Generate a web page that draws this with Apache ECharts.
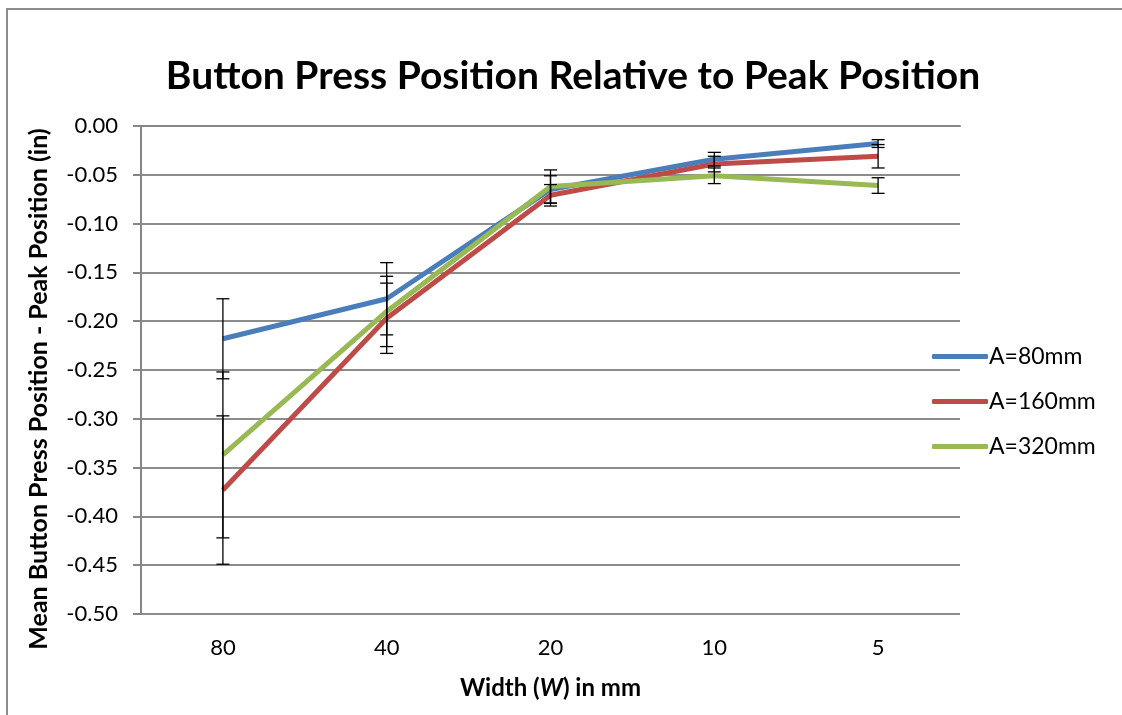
<!DOCTYPE html>
<html><head><meta charset="utf-8">
<script src="https://cdn.jsdelivr.net/npm/echarts@6/dist/echarts.min.js"></script>
<style>html,body{margin:0;padding:0;background:#fff}#c{width:1122px;height:715px}</style>
</head><body><div id="c"></div>
<script>
const categories = ['80', '40', '20', '10', '5'];
const seriesNames = ['A=80mm', 'A=160mm', 'A=320mm'];
const a80 = [-0.218, -0.177, -0.065, -0.034, -0.018];
const a160 = [-0.373, -0.197, -0.071, -0.039, -0.031];
const a320 = [-0.337, -0.190, -0.062, -0.051, -0.061];
const err80 = [0.041, 0.037, 0.014, 0.007, 0.004];
const err160 = [0.076, 0.036, 0.011, 0.008, 0.012];
const err320 = [0.085, 0.036, 0.017, 0.008, 0.008];
const yTicks = { min: -0.5, max: 0, interval: 0.05 };

const colors = ['#4a7ebb', '#be4b48', '#98b954'];
const FONT = 'Lato';
const values = [a80, a160, a320];
const errs = [err80, err160, err320];
const errData = [];
values.forEach((v, s) => v.forEach((y, i) => errData.push([i, y - errs[s][i], y + errs[s][i]])));

const chart = echarts.init(document.getElementById('c'));
chart.setOption({
  animation: false,
  textStyle: { fontFamily: FONT },
  color: colors,
  graphic: [{ type: 'rect', shape: { x: 7, y: 9, width: 1300, height: 900 }, style: { fill: 'none', stroke: '#8c8c8c', lineWidth: 2 }, silent: true, z: -10 }],
  title: { text: 'Button Press Position Relative to Peak Position', left: 568, top: 52, textAlign: 'center',
    textStyle: { fontFamily: FONT, fontWeight: 'bold', fontSize: 39, color: '#000' } },
  grid: { left: 141, right: 162, top: 126, bottom: 101 },
  legend: { orient: 'vertical', left: 927, top: 340, itemGap: 22, itemWidth: 56, itemHeight: 5, icon: 'roundRect',
    textStyle: { fontFamily: FONT, fontSize: 23, color: '#000', padding: [0, 0, 0, -4] },
    data: seriesNames },
  xAxis: { type: 'category', data: categories, boundaryGap: true,
    name: '{b|Width (}{i|W}{b|) in mm}', nameLocation: 'middle', nameGap: 62,
    nameTextStyle: { rich: {
      b: { fontFamily: FONT, fontWeight: 'bold', fontSize: 24, color: '#000' },
      i: { fontFamily: FONT, fontWeight: 'bold', fontStyle: 'italic', fontSize: 24, color: '#000' } } },
    axisLine: { lineStyle: { color: '#868686', width: 2 } }, axisTick: { show: false },
    axisLabel: { fontSize: 22, color: '#000', margin: 23 } },
  yAxis: { type: 'value', min: yTicks.min, max: yTicks.max, interval: yTicks.interval,
    name: 'Mean Button Press Position - Peak Position (in)', nameLocation: 'middle', nameGap: 90,
    nameTextStyle: { fontFamily: FONT, fontWeight: 'bold', fontSize: 25, color: '#000', padding: [0, 38, 0, 0] },
    axisLine: { show: true, lineStyle: { color: '#868686', width: 2 } },
    axisTick: { show: true, length: 8, lineStyle: { color: '#868686', width: 2 } },
    splitLine: { lineStyle: { color: '#8c8c8c', width: 2 } },
    axisLabel: { fontSize: 22, color: '#000', margin: 23, formatter: v => v.toFixed(2) } },
  series: [
    ...seriesNames.map((n, s) => ({ name: n, type: 'line', data: values[s], symbol: 'none', lineStyle: { width: 5, color: colors[s] }, z: 2 + s })),
    { type: 'custom', z: 10, silent: true, data: errData,
      renderItem: (params, api) => {
        const x = api.coord([api.value(0), 0])[0];
        const lo = api.coord([api.value(0), api.value(1)])[1];
        const hi = api.coord([api.value(0), api.value(2)])[1];
        const st = { stroke: '#000', lineWidth: 1.3, fill: 'none' };
        return { type: 'group', children: [
          { type: 'line', shape: { x1: x, y1: lo, x2: x, y2: hi }, style: st },
          { type: 'line', shape: { x1: x - 6.5, y1: lo, x2: x + 6.5, y2: lo }, style: st },
          { type: 'line', shape: { x1: x - 6.5, y1: hi, x2: x + 6.5, y2: hi }, style: st }
        ] };
      } }
  ]
});
</script></body></html>
